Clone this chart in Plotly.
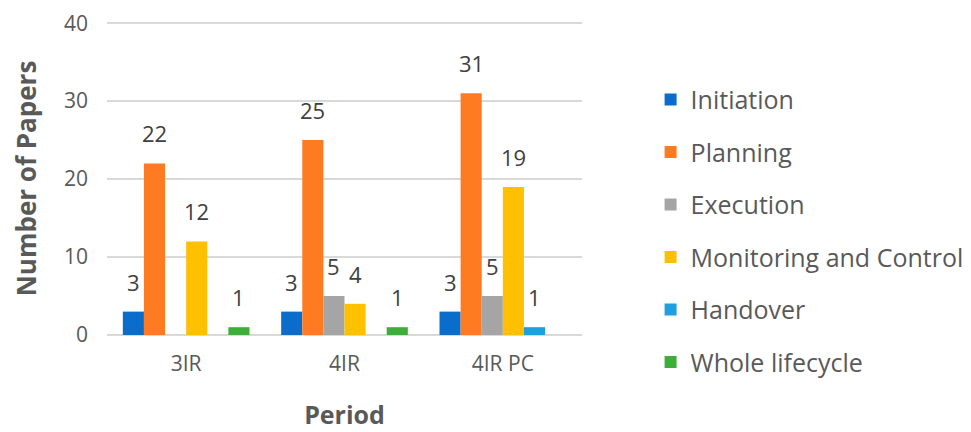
import plotly.graph_objects as go

periods = ["3IR", "4IR", "4IR PC"]
initiation = [3, 3, 3]
planning = [22, 25, 31]
execution = [0, 5, 5]
monitoring = [12, 4, 19]
handover = [0, 0, 1]
whole_lifecycle = [1, 1, 0]

series = [
    ("Initiation", initiation, "#0A6CCB"),
    ("Planning", planning, "#FF7B22"),
    ("Execution", execution, "#A5A5A5"),
    ("Monitoring and Control", monitoring, "#FFC000"),
    ("Handover", handover, "#1D9FE0"),
    ("Whole lifecycle", whole_lifecycle, "#3DAE3A"),
]

FONT = "Open Sans"
BARGAP = 0.2
n = len(series)

fig = go.Figure()
annotations = []
for i, (name, vals, color) in enumerate(series):
    fig.add_trace(go.Bar(
        name=name, x=periods, y=vals, marker=dict(color=color, line=dict(width=0)),
        legendgroup=name,
    ))
    for j, v in enumerate(vals):
        if v:
            annotations.append(dict(
                x=j + (i - (n - 1) / 2) * (1 - BARGAP) / n, y=v, xref="x", yref="y",
                text=str(v), showarrow=False, yanchor="middle", yshift=30,
                font=dict(size=22, color="#404040", family=FONT),
            ))

fig.update_layout(
    width=971, height=432,
    paper_bgcolor="white", plot_bgcolor="white",
    margin=dict(l=99, r=396, t=14, b=105),
    barmode="group", bargap=BARGAP, bargroupgap=0,
    font=dict(family=FONT, color="#595959"),
    annotations=annotations,
    legend=dict(x=1.142, xanchor="left", y=0.825, yanchor="top",
                font=dict(size=25, color="#595959", family=FONT),
                tracegroupgap=17, itemwidth=30),
    showlegend=True,
    xaxis=dict(title=dict(text="<b>Period</b>", font=dict(size=25, color="#595959"), standoff=30),
               tickfont=dict(size=21, color="#595959"), showline=False, ticks="",
               ticklabelstandoff=14, automargin=False),
    yaxis=dict(title=dict(text="<b>Number of Papers</b>", font=dict(size=26, color="#595959"), standoff=19),
               range=[0, 40.15], dtick=10, tickfont=dict(size=21, color="#595959"),
               gridcolor="#D9D9D9", gridwidth=1.5, zeroline=True, zerolinecolor="#D9D9D9",
               zerolinewidth=1.5, ticks="", ticklabelstandoff=18, automargin=False),
)

fig.write_html("out.html")
